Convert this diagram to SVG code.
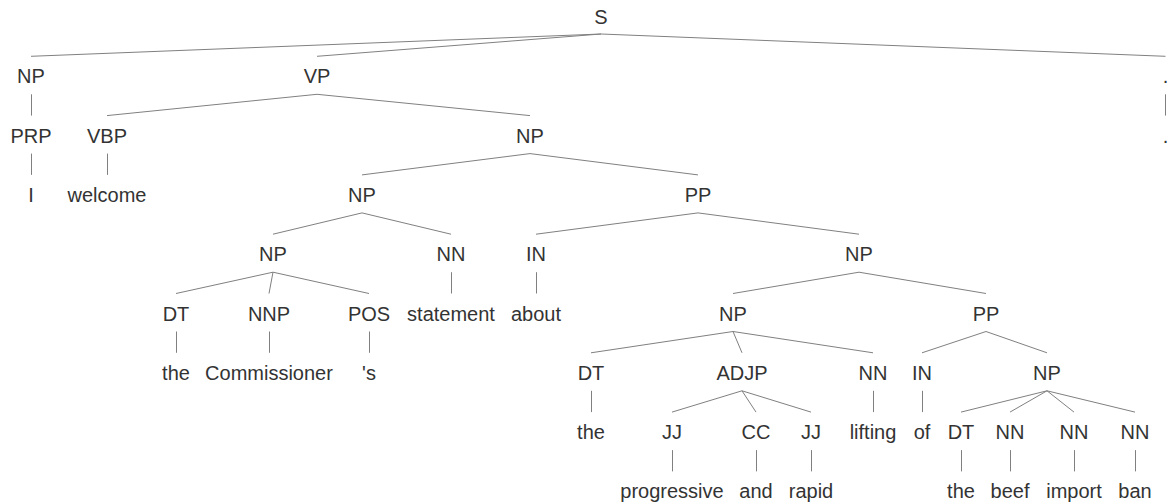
<svg xmlns="http://www.w3.org/2000/svg" width="1169" height="504" viewBox="0 0 1169 504">
<style>
text{font-family:"Liberation Sans",Arial,sans-serif;font-size:20px;fill:#333333;text-anchor:middle}
#edges line{stroke:#808080;stroke-width:1;fill:none}
</style>
<rect width="1169" height="504" fill="#ffffff"/>
<g id="edges">
<line x1="601" y1="34" x2="31" y2="56.3"/>
<line x1="601" y1="34" x2="317" y2="56.3"/>
<line x1="601" y1="34" x2="1165.5" y2="56.3"/>
<line x1="31.5" y1="94.3" x2="31.5" y2="115.6"/>
<line x1="317" y1="94.3" x2="107" y2="115.6"/>
<line x1="317" y1="94.3" x2="530" y2="115.6"/>
<line x1="1165.5" y1="94.3" x2="1165.5" y2="115.6"/>
<line x1="31.5" y1="153.6" x2="31.5" y2="174.9"/>
<line x1="107.5" y1="153.6" x2="107.5" y2="174.9"/>
<line x1="530" y1="153.6" x2="362" y2="174.9"/>
<line x1="530" y1="153.6" x2="698" y2="174.9"/>
<line x1="362" y1="212.9" x2="273" y2="234.2"/>
<line x1="362" y1="212.9" x2="451" y2="234.2"/>
<line x1="698" y1="212.9" x2="536" y2="234.2"/>
<line x1="698" y1="212.9" x2="859" y2="234.2"/>
<line x1="273" y1="272.2" x2="176" y2="293.5"/>
<line x1="273" y1="272.2" x2="269" y2="293.5"/>
<line x1="273" y1="272.2" x2="369" y2="293.5"/>
<line x1="451.5" y1="272.2" x2="451.5" y2="293.5"/>
<line x1="536.5" y1="272.2" x2="536.5" y2="293.5"/>
<line x1="859" y1="272.2" x2="733" y2="293.5"/>
<line x1="859" y1="272.2" x2="986" y2="293.5"/>
<line x1="176.5" y1="331.5" x2="176.5" y2="352.8"/>
<line x1="269.5" y1="331.5" x2="269.5" y2="352.8"/>
<line x1="369.5" y1="331.5" x2="369.5" y2="352.8"/>
<line x1="733" y1="331.5" x2="591" y2="352.8"/>
<line x1="733" y1="331.5" x2="742" y2="352.8"/>
<line x1="733" y1="331.5" x2="873" y2="352.8"/>
<line x1="986" y1="331.5" x2="922" y2="352.8"/>
<line x1="986" y1="331.5" x2="1047" y2="352.8"/>
<line x1="591.5" y1="390.8" x2="591.5" y2="412.1"/>
<line x1="742" y1="390.8" x2="672" y2="412.1"/>
<line x1="742" y1="390.8" x2="756" y2="412.1"/>
<line x1="742" y1="390.8" x2="811" y2="412.1"/>
<line x1="873.5" y1="390.8" x2="873.5" y2="412.1"/>
<line x1="922.5" y1="390.8" x2="922.5" y2="412.1"/>
<line x1="1047" y1="390.8" x2="961" y2="412.1"/>
<line x1="1047" y1="390.8" x2="1010" y2="412.1"/>
<line x1="1047" y1="390.8" x2="1074" y2="412.1"/>
<line x1="1047" y1="390.8" x2="1135" y2="412.1"/>
<line x1="672.5" y1="450.1" x2="672.5" y2="471.4"/>
<line x1="756.5" y1="450.1" x2="756.5" y2="471.4"/>
<line x1="811.5" y1="450.1" x2="811.5" y2="471.4"/>
<line x1="961.5" y1="450.1" x2="961.5" y2="471.4"/>
<line x1="1010.5" y1="450.1" x2="1010.5" y2="471.4"/>
<line x1="1074.5" y1="450.1" x2="1074.5" y2="471.4"/>
<line x1="1135.5" y1="450.1" x2="1135.5" y2="471.4"/>
</g>
<g id="n-S"><text x="601" y="24">S</text></g>
<g id="n-NP1"><text x="31" y="83.3">NP</text></g>
<g id="n-VP"><text x="317" y="83.3">VP</text></g>
<g id="n-PUNCT"><text x="1165.5" y="83.3">.</text></g>
<g id="n-PRP"><text x="31" y="142.6">PRP</text></g>
<g id="n-VBP"><text x="107" y="142.6">VBP</text></g>
<g id="n-NP2"><text x="530" y="142.6">NP</text></g>
<g id="w-period"><text x="1165.5" y="142.6">.</text></g>
<g id="w-I"><text x="31" y="201.9">I</text></g>
<g id="w-welcome"><text x="107" y="201.9">welcome</text></g>
<g id="n-NP3"><text x="362" y="201.9">NP</text></g>
<g id="n-PP1"><text x="698" y="201.9">PP</text></g>
<g id="n-NP4"><text x="273" y="261.2">NP</text></g>
<g id="n-NN1"><text x="451" y="261.2">NN</text></g>
<g id="n-IN1"><text x="536" y="261.2">IN</text></g>
<g id="n-NP5"><text x="859" y="261.2">NP</text></g>
<g id="n-DT1"><text x="176" y="320.5">DT</text></g>
<g id="n-NNP"><text x="269" y="320.5">NNP</text></g>
<g id="n-POS"><text x="369" y="320.5">POS</text></g>
<g id="w-statement"><text x="451" y="320.5">statement</text></g>
<g id="w-about"><text x="536" y="320.5">about</text></g>
<g id="n-NP6"><text x="733" y="320.5">NP</text></g>
<g id="n-PP2"><text x="986" y="320.5">PP</text></g>
<g id="w-the1"><text x="176" y="379.8">the</text></g>
<g id="w-Commissioner"><text x="269" y="379.8">Commissioner</text></g>
<g id="w-s"><text x="369" y="379.8">'s</text></g>
<g id="n-DT2"><text x="591" y="379.8">DT</text></g>
<g id="n-ADJP"><text x="742" y="379.8">ADJP</text></g>
<g id="n-NN2"><text x="873" y="379.8">NN</text></g>
<g id="n-IN2"><text x="922" y="379.8">IN</text></g>
<g id="n-NP7"><text x="1047" y="379.8">NP</text></g>
<g id="w-the2"><text x="591" y="439.1">the</text></g>
<g id="n-JJ1"><text x="672" y="439.1">JJ</text></g>
<g id="n-CC"><text x="756" y="439.1">CC</text></g>
<g id="n-JJ2"><text x="811" y="439.1">JJ</text></g>
<g id="w-lifting"><text x="873" y="439.1">lifting</text></g>
<g id="w-of"><text x="922" y="439.1">of</text></g>
<g id="n-DT3"><text x="961" y="439.1">DT</text></g>
<g id="n-NN3"><text x="1010" y="439.1">NN</text></g>
<g id="n-NN4"><text x="1074" y="439.1">NN</text></g>
<g id="n-NN5"><text x="1135" y="439.1">NN</text></g>
<g id="w-progressive"><text x="672" y="498.4">progressive</text></g>
<g id="w-and"><text x="756" y="498.4">and</text></g>
<g id="w-rapid"><text x="811" y="498.4">rapid</text></g>
<g id="w-the3"><text x="961" y="498.4">the</text></g>
<g id="w-beef"><text x="1010" y="498.4">beef</text></g>
<g id="w-import"><text x="1074" y="498.4">import</text></g>
<g id="w-ban"><text x="1135" y="498.4">ban</text></g>
</svg>
